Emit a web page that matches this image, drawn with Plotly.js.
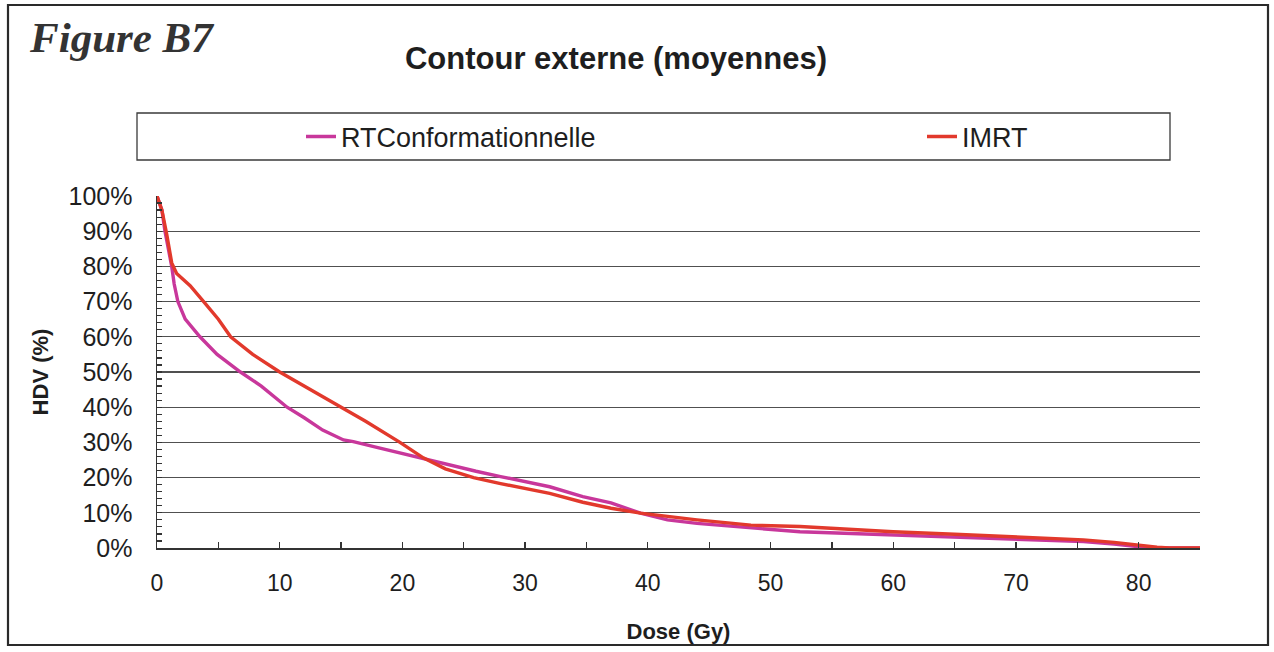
<!DOCTYPE html>
<html>
<head>
<meta charset="utf-8">
<script src="https://cdn.plot.ly/plotly-3.0.1.min.js"></script>
<style>
  html, body { margin: 0; padding: 0; background: #fff; }
  #chart { width: 1274px; height: 652px; }
</style>
</head>
<body>
<div id="chart"></div>
<script>
// Mean dose-volume histograms, external contour
const seriesNames = ['RTConformationnelle', 'IMRT'];

const doseRT = [0, 0.4, 0.65, 1.2, 1.4, 1.7, 2.3, 3.5, 4.9, 6.8, 8.5, 10.6, 12, 13.5, 15.2, 16, 18, 20, 21.7, 24, 26, 28, 30, 32, 34.7, 37, 39.4, 41.6, 44, 48.4, 52.4, 56, 60, 65, 70, 75.5, 78, 79.5, 81, 85];
const hdvRT  = [100, 96, 90, 80, 75, 70, 65, 60, 55, 50, 46, 40, 37, 33.5, 30.7, 30.2, 28.5, 26.8, 25.6, 23.5, 21.8, 20.3, 18.8, 17.4, 14.6, 12.8, 9.9, 8, 7, 5.7, 4.6, 4.2, 3.7, 3.1, 2.5, 1.8, 1.1, 0.5, 0, 0];

const doseIMRT = [0, 0.4, 0.8, 1.2, 1.6, 2.2, 2.7, 3.8, 5, 6, 7.8, 10, 12, 14.9, 17, 19.8, 21.7, 23.5, 25.8, 28, 30, 32, 34.7, 37, 39.4, 41.6, 44, 48.4, 52.4, 56, 60, 65, 70, 75.5, 78, 80, 81.5, 82.5, 85];
const hdvIMRT  = [100, 96, 89, 81, 78, 76.2, 74.5, 70, 65, 60, 55, 50, 46, 40, 36, 30, 25.6, 22.5, 20, 18.3, 17, 15.5, 13, 11.3, 9.9, 8.9, 8, 6.5, 6.1, 5.4, 4.6, 3.9, 3.2, 2.3, 1.6, 0.7, 0.2, 0, 0];

const doseTicks = [0, 10, 20, 30, 40, 50, 60, 70, 80];
const hdvTicks = [0, 10, 20, 30, 40, 50, 60, 70, 80, 90, 100];
const hdvTickLabels = ['0%', '10%', '20%', '30%', '40%', '50%', '60%', '70%', '80%', '90%', '100%'];

// Plot area in page pixels
const W = 1274, H = 652;
const plotL = 157, plotR = 1200, plotT = 196, plotB = 548;
const px = x => (x - plotL) / (plotR - plotL);
const py = y => (plotB - y) / (plotB - plotT);

const colors = ['#c8379b', '#e2392c'];
const textColor = '#1e1e1e';

const traces = [
  { x: doseRT, y: hdvRT, name: seriesNames[0], type: 'scatter', mode: 'lines',
    line: { color: colors[0], width: 3.4 }, legend: 'legend' },
  { x: doseIMRT, y: hdvIMRT, name: seriesNames[1], type: 'scatter', mode: 'lines',
    line: { color: colors[1], width: 3.4 }, legend: 'legend2' }
];

const legendStyle = {
  yanchor: 'middle',
  y: py(137),
  xanchor: 'left',
  font: { size: 27, color: textColor },
  bgcolor: 'rgba(0,0,0,0)',
  borderwidth: 0,
  itemclick: false,
  itemdoubleclick: false
};

const layout = {
  width: W, height: H,
  margin: { l: plotL, r: W - plotR, t: plotT, b: H - plotB },
  paper_bgcolor: '#ffffff',
  plot_bgcolor: '#ffffff',
  font: { family: 'Liberation Sans, Arial, sans-serif', color: textColor },
  title: {
    text: 'Contour externe (moyennes)',
    font: { size: 31, color: textColor, family: 'Liberation Sans, Arial, sans-serif', weight: 'bold' },
    x: 616 / W, xanchor: 'center', y: 1 - 58 / H, yanchor: 'middle'
  },
  showlegend: true,
  legend: Object.assign({}, legendStyle, { x: px(301) }),
  legend2: Object.assign({}, legendStyle, { x: px(922) }),
  xaxis: {
    range: [0, 85],
    tickvals: doseTicks,
    ticks: 'inside', ticklen: 6, tickwidth: 1.3, tickcolor: '#333',
    minor: { dtick: 5, ticks: 'inside', ticklen: 6, tickwidth: 1.3, tickcolor: '#333', showgrid: false },
    showline: true, linecolor: '#333', linewidth: 1.5,
    showgrid: false, zeroline: false,
    tickfont: { size: 23, color: textColor },
    ticklabelstandoff: 14,
    title: { text: 'Dose (Gy)', font: { size: 22, weight: 'bold', color: textColor }, standoff: 28 },
    automargin: false
  },
  yaxis: {
    range: [0, 100],
    tickvals: hdvTicks,
    ticktext: hdvTickLabels,
    ticks: 'inside', ticklen: 5, tickwidth: 1.2, tickcolor: '#333',
    minor: { dtick: 2, ticks: 'inside', ticklen: 5, tickwidth: 1.2, tickcolor: '#333', showgrid: false },
    showline: true, linecolor: '#333', linewidth: 1.5,
    showgrid: true, gridcolor: '#505050', gridwidth: 1.3,
    zeroline: false,
    tickfont: { size: 25, color: textColor },
    ticklabelstandoff: 18,
    title: { text: 'HDV (%)', font: { size: 22, weight: 'bold', color: textColor }, standoff: 14 },
    automargin: false
  },
  shapes: [
    // outer frame
    { type: 'rect', xref: 'paper', yref: 'paper',
      x0: px(8), x1: px(1268), y0: py(645), y1: py(5),
      line: { color: '#2a2a2a', width: 2.2 }, fillcolor: 'rgba(0,0,0,0)', layer: 'below' },
    // legend frame
    { type: 'rect', xref: 'paper', yref: 'paper',
      x0: px(137), x1: px(1170), y0: py(160), y1: py(113),
      line: { color: '#3a3a3a', width: 1.3 }, fillcolor: 'rgba(0,0,0,0)', layer: 'below' }
  ],
  annotations: [
    { text: '<i><b>Figure B7</b></i>', xref: 'paper', yref: 'paper',
      x: px(27), xanchor: 'left', y: py(38), yanchor: 'middle', showarrow: false,
      font: { family: 'Liberation Serif, Times New Roman, serif', size: 43, color: '#333' } }
  ]
};

Plotly.newPlot('chart', traces, layout, { staticPlot: true, displayModeBar: false });
</script>
</body>
</html>
